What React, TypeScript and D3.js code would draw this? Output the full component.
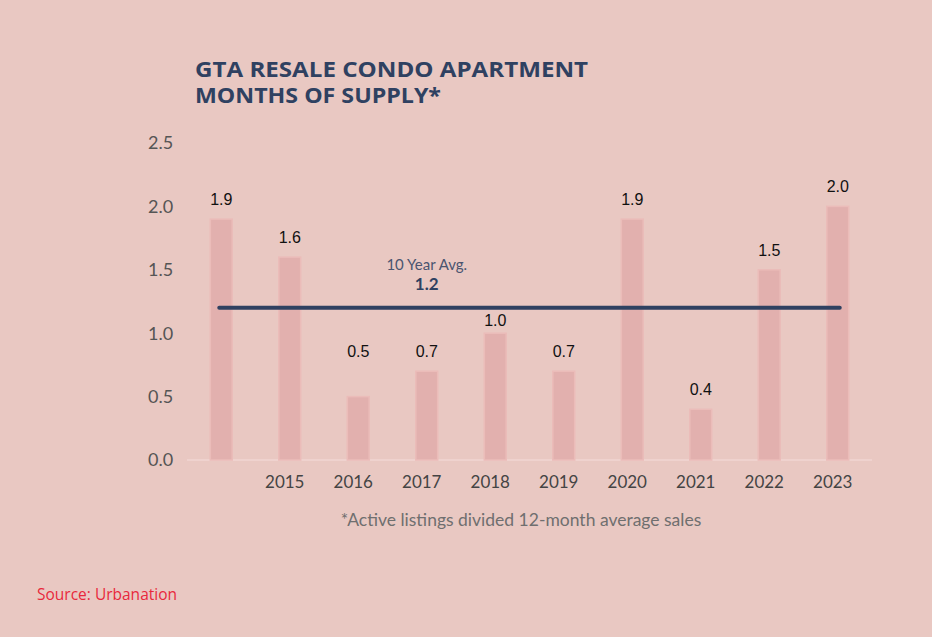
import React from "react";
import * as d3 from "d3";

const years = ["2014", "2015", "2016", "2017", "2018", "2019", "2020", "2021", "2022", "2023"];
const yearLabels = ["", "2015", "2016", "2017", "2018", "2019", "2020", "2021", "2022", "2023"];
const values = [1.9, 1.6, 0.5, 0.7, 1.0, 0.7, 1.9, 0.4, 1.5, 2.0];
const yTicks = [0, 0.5, 1.0, 1.5, 2.0, 2.5];
const avgValue = 1.2;

const W = 932;
const H = 637;
const BG = "#e9c8c2";
const NAVY = "#2f4161";

export default function App() {
  const x = d3.scaleBand<string>().domain(years).range([187, 872]).paddingInner(0.68).paddingOuter(0.34);
  const y = d3.scaleLinear().domain([0, 2.5]).range([460, 143]);
  const bw = x.bandwidth();
  const cx = (k: string) => x(k)! + bw / 2;
  const first = cx(years[0]);
  const last = cx(years[years.length - 1]);
  // label offset above bar top (the 2016 label sits higher, level with the 0.7 labels; the 2018 label sits closer to its bar)
  const labelGap = (i: number, v: number) => {
    if (years[i] === "2016") return y(v) - y(0.7) + 14;
    if (years[i] === "2018") return 7;
    return 14;
  };

  return (
    <div style={{ position: "fixed", left: 0, top: 0, width: W, height: H, background: BG }}>
      <svg width={W} height={H} style={{ display: "block" }}>
        <rect width={W} height={H} fill={BG} />
        <text x={195} y={77} fill={NAVY} fontFamily="Open Sans, sans-serif" fontWeight={700} fontSize={21} textLength={393} lengthAdjust="spacingAndGlyphs">
          GTA RESALE CONDO APARTMENT
        </text>
        <text x={195} y={103} fill={NAVY} fontFamily="Open Sans, sans-serif" fontWeight={700} fontSize={21} textLength={246} lengthAdjust="spacingAndGlyphs">
          MONTHS OF SUPPLY*
        </text>

        {yTicks.map((t) => (
          <text key={t} x={148} y={y(t)} dy="0.35em" fill="#555" fontFamily="Lato, sans-serif" fontSize={18}>
            {d3.format(".1f")(t)}
          </text>
        ))}

        <line x1={187} x2={872} y1={y(0)} y2={y(0)} stroke="#f0d6d2" strokeWidth={1.5} />

        {values.map((v, i) => (
          <g key={years[i]}>
            <rect x={x(years[i])} y={y(v)} width={bw} height={y(0) - y(v)} fill="#e2b0ae" stroke="#ebbcb9" strokeWidth={1.5} />
            <text x={cx(years[i])} y={y(v) - labelGap(i, v)} textAnchor="middle" fill="#111" fontFamily="Liberation Sans, Arial, sans-serif" fontSize={16}>
              {d3.format(".1f")(v)}
            </text>
            {yearLabels[i] && (
              <text x={cx(years[i]) - 5} y={488} textAnchor="middle" fill="#444" fontFamily="Lato, sans-serif" fontSize={17}>
                {yearLabels[i]}
              </text>
            )}
          </g>
        ))}

        <line x1={first - 2} x2={last + 2} y1={y(avgValue)} y2={y(avgValue)} stroke={NAVY} strokeWidth={4} strokeLinecap="round" />
        <text x={cx("2017")} y={270} textAnchor="middle" fill="#4a5570" fontFamily="Lato, sans-serif" fontSize={15}>
          10 Year Avg.
        </text>
        <text x={cx("2017")} y={290} textAnchor="middle" fill={NAVY} fontFamily="Lato, sans-serif" fontWeight={700} fontSize={17}>
          {avgValue.toFixed(1)}
        </text>

        <text x={521} y={526} textAnchor="middle" fill="#6f6f6f" fontFamily="Lato, sans-serif" fontSize={17.5}>
          *Active listings divided 12-month average sales
        </text>

        <text x={37} y={600} fill="#e8283c" fontFamily="Open Sans, sans-serif" fontSize={15.5}>
          Source: Urbanation
        </text>
      </svg>
    </div>
  );
}
